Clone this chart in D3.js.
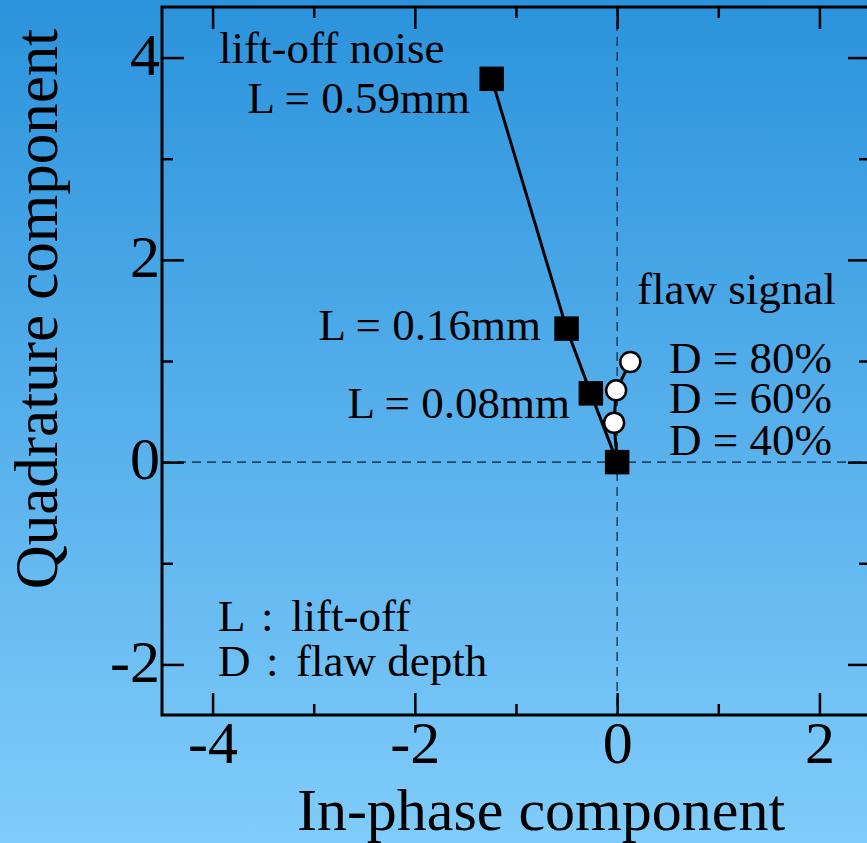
<!DOCTYPE html>
<html>
<head>
<meta charset="utf-8">
<script src="https://cdn.jsdelivr.net/npm/d3@7"></script>
<style>
  html, body { margin: 0; padding: 0; background: #5ab0ea; }
  svg { display: block; }
  text { font-family: "Liberation Serif", "Times New Roman", serif; fill: #000; }
</style>
</head>
<body>
<svg id="chart" width="867" height="843"></svg>
<script>
// Lift-off trajectory (squares), from largest lift-off down to the origin
const liftLabels = ["L = 0.59mm", "L = 0.16mm", "L = 0.08mm", ""];
const liftX = [-1.24, -0.50, -0.26, 0.00];
const liftY = [3.79, 1.32, 0.68, 0.00];

// Flaw signal trajectory (circles), starting from the origin
const flawLabels = ["", "D = 40%", "D = 60%", "D = 80%"];
const flawX = [0.00, -0.03, -0.01, 0.13];
const flawY = [0.00, 0.39, 0.71, 0.99];

// Axis ticks
const xMajor = [-4, -2, 0, 2];
const xMinor = [-3, -1, 1];
const yMajor = [-2, 0, 2, 4];
const yMinor = [-1, 1, 3];

// Legend of symbols
const keyLetters = ["L", "D"];
const keyMeanings = ["lift-off", "flaw depth"];

const W = 867, H = 843;
const plot = { left: 162, right: 870, top: 7, bottom: 715 };

const svg = d3.select("#chart");

// Background gradient
const defs = svg.append("defs");
const grad = defs.append("linearGradient")
  .attr("id", "bg").attr("x1", 0).attr("y1", 0).attr("x2", 0).attr("y2", 1);
grad.append("stop").attr("offset", "0%").attr("stop-color", "#2b93dc");
grad.append("stop").attr("offset", "100%").attr("stop-color", "#80ccfa");
svg.append("rect").attr("width", W).attr("height", H).attr("fill", "url(#bg)");

const x = d3.scaleLinear().domain([-4.5, 2.5]).range([plot.left, plot.right]);
const y = d3.scaleLinear().domain([-2.5, 4.5]).range([plot.bottom, plot.top]);

// Dashed zero lines
const zero = svg.append("g")
  .attr("stroke", "#17324d").attr("stroke-opacity", 0.85)
  .attr("stroke-width", 1.6).attr("stroke-dasharray", "9,6").attr("fill", "none");
zero.append("line").attr("x1", x(0)).attr("x2", x(0)).attr("y1", plot.top).attr("y2", plot.bottom);
zero.append("line").attr("x1", plot.left).attr("x2", plot.right).attr("y1", y(0)).attr("y2", y(0));

// Frame
svg.append("rect")
  .attr("x", plot.left).attr("y", plot.top)
  .attr("width", plot.right - plot.left).attr("height", plot.bottom - plot.top)
  .attr("fill", "none").attr("stroke", "#000").attr("stroke-width", 3);

function styleAxis(g) {
  g.select(".domain").remove();
  g.selectAll(".tick line").attr("stroke", "#000").attr("stroke-width", 2.5);
  g.selectAll("text").style("font-size", "60px").attr("fill", "#000");
}
const fmt = d => d < 0 ? "-" + Math.abs(d) : d;

// Bottom axis (inward ticks)
const gB = svg.append("g").attr("transform", `translate(0,${plot.bottom})`)
  .call(d3.axisBottom(x).tickValues(xMajor).tickSize(-22).tickPadding(0).tickFormat(fmt));
styleAxis(gB);
gB.selectAll("text").attr("y", 48).attr("dy", null);
svg.append("g").attr("transform", `translate(0,${plot.bottom})`)
  .call(d3.axisBottom(x).tickValues(xMinor).tickSize(-11).tickFormat(""))
  .call(styleAxis);

// Top axis (ticks only)
svg.append("g").attr("transform", `translate(0,${plot.top})`)
  .call(d3.axisTop(x).tickValues(xMajor).tickSize(-22).tickFormat(""))
  .call(styleAxis);
svg.append("g").attr("transform", `translate(0,${plot.top})`)
  .call(d3.axisTop(x).tickValues(xMinor).tickSize(-11).tickFormat(""))
  .call(styleAxis);

// Left axis
const gL = svg.append("g").attr("transform", `translate(${plot.left},0)`)
  .call(d3.axisLeft(y).tickValues(yMajor).tickSize(-22).tickPadding(2).tickFormat(fmt));
styleAxis(gL);
gL.selectAll("text").attr("dy", "0.28em");
svg.append("g").attr("transform", `translate(${plot.left},0)`)
  .call(d3.axisLeft(y).tickValues(yMinor).tickSize(-11).tickFormat(""))
  .call(styleAxis);

// Right axis (ticks only)
svg.append("g").attr("transform", `translate(${plot.right},0)`)
  .call(d3.axisRight(y).tickValues(yMajor).tickSize(-22).tickFormat(""))
  .call(styleAxis);
svg.append("g").attr("transform", `translate(${plot.right},0)`)
  .call(d3.axisRight(y).tickValues(yMinor).tickSize(-11).tickFormat(""))
  .call(styleAxis);

// Axis titles
svg.append("text")
  .attr("x", 541).attr("y", 830).attr("text-anchor", "middle")
  .style("font-size", "60px").text("In-phase component");
svg.append("text")
  .attr("transform", "translate(57,309) rotate(-90)").attr("text-anchor", "middle")
  .style("font-size", "61px").text("Quadrature component");

// Trajectories
const lift = liftX.map((v, i) => ({ x: v, y: liftY[i], label: liftLabels[i] }));
const flaw = flawX.map((v, i) => ({ x: v, y: flawY[i], label: flawLabels[i] }));
const line = d3.line().x(d => x(d.x)).y(d => y(d.y));

svg.append("path").datum(lift).attr("d", line)
  .attr("fill", "none").attr("stroke", "#000").attr("stroke-width", 3);
svg.append("path").datum(flaw).attr("d", line)
  .attr("fill", "none").attr("stroke", "#000").attr("stroke-width", 3);

const sq = 22;
svg.append("g").selectAll("rect").data(lift).join("rect")
  .attr("x", d => x(d.x) - sq / 2).attr("y", d => y(d.y) - sq / 2)
  .attr("width", sq).attr("height", sq)
  .attr("fill", "#000").attr("stroke", "#000").attr("stroke-width", 2.5);

svg.append("g").selectAll("circle").data(flaw.filter(d => d.label)).join("circle")
  .attr("cx", d => x(d.x)).attr("cy", d => y(d.y)).attr("r", 10)
  .attr("fill", "#fff").attr("stroke", "#000").attr("stroke-width", 2.5);

// Annotations
const fs = "45px";
const liftLabelPos = [[470, 113], [541, 340], [570, 418]];
lift.filter(d => d.label).forEach((d, i) => {
  svg.append("text").attr("x", liftLabelPos[i][0]).attr("y", liftLabelPos[i][1])
    .attr("text-anchor", "end").style("font-size", fs).text(d.label);
});
svg.append("text").attr("x", 219).attr("y", 63).style("font-size", fs).text("lift-off noise");

svg.append("text").attr("x", 637).attr("y", 304).style("font-size", fs).text("flaw signal");
const flawLabelY = [455, 413, 373];
flaw.filter(d => d.label).forEach((d, i) => {
  svg.append("text").attr("x", 669).attr("y", flawLabelY[i])
    .style("font-size", fs).text(d.label);
});

// Symbol key: letter, colon, meaning
const keyY = [631, 676];
const colonX = [261, 266];
const meaningX = [291, 296];
keyLetters.forEach((k, i) => {
  const t = svg.append("text").attr("y", keyY[i]).style("font-size", fs);
  t.append("tspan").attr("x", 218).text(k);
  t.append("tspan").attr("x", colonX[i]).text(":");
  t.append("tspan").attr("x", meaningX[i]).text(keyMeanings[i]);
});
</script>
</body>
</html>
